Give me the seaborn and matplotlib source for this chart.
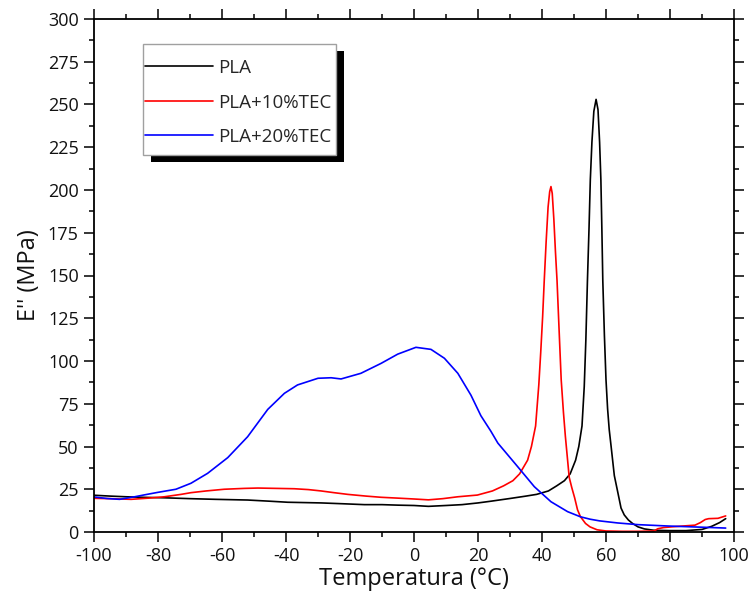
import numpy as np
import pandas as pd
import matplotlib
matplotlib.use("Agg")
import matplotlib.pyplot as plt
import seaborn as sns
from matplotlib.ticker import MultipleLocator
from matplotlib.patches import Rectangle

# ---- data ----
pla_T = [-100, -95, -90, -85, -78, -70, -62, -52, -45, -39.5, -29, -22, -15.5, -10, -5, 0, 4.5,
         10, 15, 20, 24, 30, 35, 38.3, 42, 44.6, 47, 48.8, 50.5, 51.5, 52.5, 53.2, 53.7, 54.2,
         54.7, 55.1, 55.6, 56.2, 56.9, 57.5, 58.0, 58.4, 58.7, 59, 59.5, 60, 60.5, 61, 61.6,
         62.6, 63.6, 64.7, 65.7, 67, 68.3, 70, 72, 75, 80, 85, 90, 93, 95.5, 97.4]
pla_E = [21.5, 21, 20.6, 20.3, 20, 19.5, 19.1, 18.7, 18, 17.4, 17, 16.5, 16, 16, 15.7, 15.5, 15,
         15.5, 16, 17, 18, 19.6, 21, 22, 24, 27, 30, 34, 42, 50, 62, 85, 112, 147,
         178, 206, 228, 246, 253, 247, 228, 206, 178, 147, 115, 89, 72, 60, 50,
         33, 24, 14, 10, 7, 5, 3, 1.8, 1, 0.8, 0.8, 1.5, 3.3, 5.5, 7.8]

tec10_T = [-100, -95, -88.4, -83, -78, -72.8, -69.7, -65, -59.3, -53, -48.8, -43, -37.4, -33, -29,
           -25, -20.7, -15, -10.3, -5, 0, 4.5, 9, 13.7, 19.8, 24.5, 28, 30.9, 33, 35.5, 36.7,
           38.0, 39.0, 39.6, 40.2, 40.7, 41.3, 41.9, 42.4, 42.8, 43.2, 43.7, 44.2, 44.7, 45.3,
           46, 46.7, 47.3, 48.5, 49.3, 50.2, 51.1, 52, 53.6, 55, 57.2, 60, 65, 70, 75, 76.2, 78,
           80.5, 84, 87.8, 89.5, 91, 92.1, 95, 97.4]
tec10_E = [19.7, 19.5, 19.1, 19.8, 20.6, 22, 23, 24, 25, 25.5, 25.7, 25.5, 25.3, 24.8, 24,
           23, 22, 21, 20.3, 19.8, 19.3, 18.8, 19.5, 20.6, 21.6, 24, 27, 30, 34, 42, 50,
           62, 86, 105, 126, 147, 170, 190, 199, 202, 198, 183, 164, 147, 120,
           89, 70, 56, 32, 26, 20, 13, 9, 5, 3, 1.3, 0.6, 0.4, 0.4, 0.6, 1.9, 2.6,
           3, 3.5, 4, 5.5, 7.3, 7.8, 8, 9.4]

tec20_T = [-100, -96, -92, -87.3, -84, -80, -74.4, -69.7, -64.5, -58.2, -52, -45.7, -40.5, -36.4,
           -30, -25.9, -22.8, -16.6, -10.3, -5.1, 0.6, 5.3, 9.5, 13.7, 17.8, 20.9, 24, 26.2,
           32.4, 37.6, 42.8, 48, 52, 55, 58, 63.6, 70, 79.4, 90, 97.4]
tec20_E = [20.5, 19.6, 19.1, 20.6, 21.8, 23.2, 25, 28.5, 34.3, 43.5, 55.7, 71.7, 81.1, 86,
           89.9, 90.2, 89.5, 92.8, 98.6, 104, 108, 106.8, 101.6, 92.8, 80, 68, 59, 52,
           38.2, 26.5, 17.7, 11.9, 8.9, 7.5, 6.5, 5.3, 4.3, 3.5, 2.8, 2.3]

series_names = ["PLA", "PLA+10%TEC", "PLA+20%TEC"]
series_colors = ["#000000", "#ff0000", "#0000ff"]

x_ticks = list(range(-100, 101, 20))
y_ticks = list(range(0, 301, 25))

df = pd.concat([
    pd.DataFrame({"T": pla_T, "E": pla_E, "Serie": series_names[0]}),
    pd.DataFrame({"T": tec10_T, "E": tec10_E, "Serie": series_names[1]}),
    pd.DataFrame({"T": tec20_T, "E": tec20_E, "Serie": series_names[2]}),
], ignore_index=True)

# ---- style ----
sns.set_style("ticks")
plt.rcParams["font.family"] = ["Open Sans", "DejaVu Sans"]
plt.rcParams["axes.unicode_minus"] = False

W, H = 750, 603
AX_L, AX_R, AX_T, AX_B = 94, 734, 19, 532
fig = plt.figure(figsize=(W / 100, H / 100), dpi=100)
ax = fig.add_axes([AX_L / W, 1 - AX_B / H, (AX_R - AX_L) / W, (AX_B - AX_T) / H])

sns.lineplot(data=df, x="T", y="E", hue="Serie", hue_order=series_names,
             palette=series_colors, estimator=None, sort=False, linewidth=1.2, ax=ax)

ax.set_xlim(-100, 100)
ax.set_ylim(0, 300)
ax.set_xticks(x_ticks)
ax.set_yticks(y_ticks)
ax.xaxis.set_minor_locator(MultipleLocator(10))
ax.yaxis.set_minor_locator(MultipleLocator(12.5))
ax.tick_params(which="both", direction="out", top=True, right=True, width=1.1,
               colors="black", labelsize=13, labelcolor="#111111")
ax.tick_params(which="major", length=7, pad=4)
ax.tick_params(which="minor", length=3.5)
for sp in ax.spines.values():
    sp.set_visible(True)
    sp.set_linewidth(1.3)
    sp.set_color("black")

ax.set_xlabel("Temperatura (°C)", fontsize=17, labelpad=1, color="#111111")
ax.set_ylabel("E'' (MPa)", fontsize=17, labelpad=5, color="#111111")


def px_to_axes(px, py):
    return (px - AX_L) / (AX_R - AX_L), (AX_B - py) / (AX_B - AX_T)


# legend entries without frame, frame and black shadow drawn as patches
leg = ax.legend(loc="upper left", bbox_to_anchor=px_to_axes(145, 59),
                borderaxespad=0, borderpad=0, fontsize=13.5, handlelength=3.6,
                handletextpad=0.3, labelspacing=0.88, frameon=False)
for h in leg.get_lines():
    h.set_linewidth(1.2)

fx0, fy1 = px_to_axes(143, 44)
fx1, fy0 = px_to_axes(336, 155)
sx, sy = 7.5 / (AX_R - AX_L), 7.0 / (AX_B - AX_T)
ax.add_patch(Rectangle((fx0 + sx, fy0 - sy), fx1 - fx0, fy1 - fy0, transform=ax.transAxes,
                       facecolor="black", edgecolor="none", zorder=4.5, clip_on=False))
ax.add_patch(Rectangle((fx0, fy0), fx1 - fx0, fy1 - fy0, transform=ax.transAxes,
                       facecolor="white", edgecolor="#a0a0a0", linewidth=1.0,
                       zorder=4.6, clip_on=False))

fig.savefig("out.png", dpi=100)
